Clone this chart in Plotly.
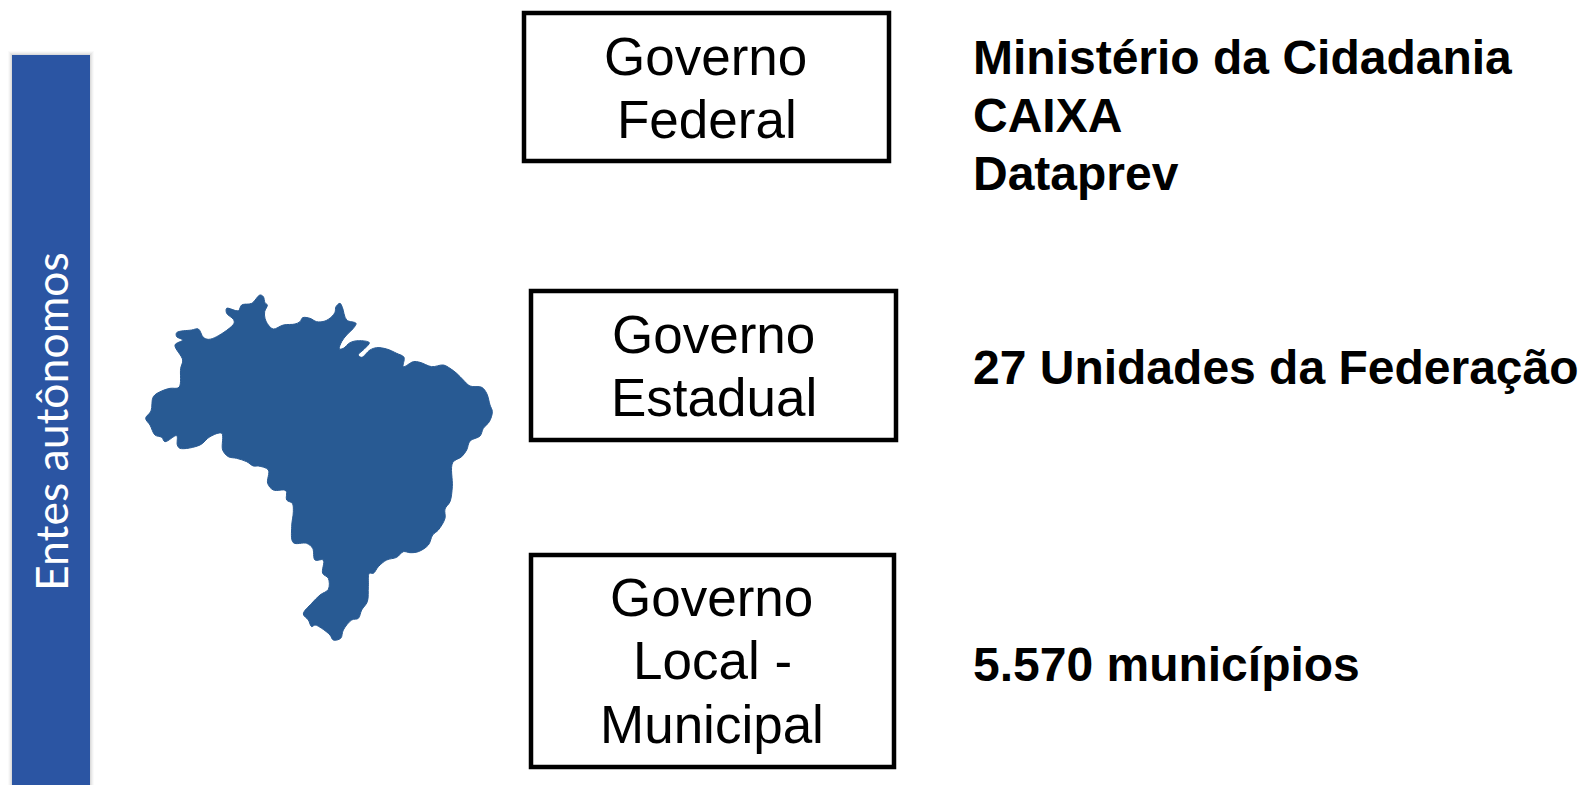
import plotly.graph_objects as go

W, H = 1583, 785

# Brazil outline (reference pixels)
map_x_raw = [390,400,405,412,404,405,415,430,460,495,510,518,540,560,585,605,615,618,630,637,650,678,670,650,635,628,640,660,685,718,705,685,695,720,740,770,800,822,820,850,870,905,940,960,980,1000,1020,1055,1070,1080,1087,1078,1060,1050,1020,1010,995,968,967,960,945,945,925,908,895,865,840,820,800,770,745,730,718,715,712,695,685,665,640,632,610,600,575,555,545,535,520,545,570,595,595,578,580,555,548,530,490,485,490,487,470,468,430,413,415,385,370,350,320,295,278,275,240,210,150,142,140,105,95,75,60,47,63,70,95,120,147,152,158,135,158,140,140,185,205,220,235,260,312,310,290,290,325,335,365]
map_y_raw = [45,50,68,75,95,115,135,147,135,132,125,113,115,125,123,110,97,80,70,82,120,130,145,165,185,207,205,188,182,188,205,225,232,210,203,207,220,232,260,245,247,260,255,265,280,300,318,322,340,375,395,425,445,468,483,510,530,548,620,665,687,715,750,765,795,815,818,815,832,840,860,880,880,920,965,990,1015,1020,1050,1075,1080,1065,1045,1035,1040,1020,1002,970,945,928,895,880,840,840,805,790,788,740,695,670,660,632,630,610,570,558,558,545,535,530,510,460,470,495,505,495,467,485,472,465,435,415,393,350,333,325,322,265,240,195,180,170,158,150,147,172,178,170,130,118,100,85,92,75,70]
map_x = [130 + v / 3 for v in map_x_raw]
map_y = [280 + v / 3 for v in map_y_raw]

box_left = [524, 531, 531]
box_right = [889, 896, 894]
box_top = [13, 291, 555]
box_bottom = [161, 440, 767]

box_lines = ["Governo", "Federal", "Governo", "Estadual", "Governo", "Local -", "Municipal"]
box_lines_x = [705, 707, 713, 714, 711, 712, 712]
box_lines_y = [56, 119, 334, 397, 597, 660, 724]

side_lines = ["Ministério da Cidadania", "CAIXA", "Dataprev", "27 Unidades da Federação", "5.570 municípios"]
side_lines_y = [57, 115, 173, 367, 664]
side_x = 971

band_label = "Entes autônomos"

fig = go.Figure()

fig.add_trace(go.Scatter(
    x=map_x + map_x[:1], y=map_y + map_y[:1], mode="lines", fill="toself",
    fillcolor="#285A93", line=dict(color="#285A93", width=1, shape="spline", smoothing=1.0),
    hoverinfo="skip", showlegend=False))

shapes = []
# soft shadow around the band
for grow, op in [(4, 0.02), (3, 0.03), (2, 0.04), (1, 0.05)]:
    shapes.append(dict(type="rect", x0=12 - grow, x1=90 + grow, y0=55 - grow, y1=790,
                       fillcolor="#000000", opacity=op, line_width=0, layer="below"))
shapes.append(dict(type="rect", x0=12, x1=90, y0=55, y1=790, fillcolor="#2B55A3",
                   line_width=0, layer="below"))
for l, r, t, b in zip(box_left, box_right, box_top, box_bottom):
    shapes.append(dict(type="rect", x0=l, x1=r, y0=t, y1=b, fillcolor="rgba(0,0,0,0)",
                       line=dict(color="#000000", width=4.5)))

annotations = [dict(x=50, y=422, text=band_label, textangle=-90, showarrow=False,
                    font=dict(family="Lato", size=44.5, color="#FFFFFF"),
                    xanchor="center", yanchor="middle")]
for t, x, y in zip(box_lines, box_lines_x, box_lines_y):
    annotations.append(dict(x=x, y=y, text=t, showarrow=False, xanchor="center", yanchor="middle",
                            font=dict(family="Liberation Sans", size=53, color="#000000")))
for t, y in zip(side_lines, side_lines_y):
    annotations.append(dict(x=side_x, y=y, text="<b>" + t + "</b>", showarrow=False,
                            xanchor="left", yanchor="middle",
                            font=dict(family="Liberation Sans", size=48, color="#000000")))

fig.update_layout(
    width=W, height=H, margin=dict(l=0, r=0, t=0, b=0, pad=0),
    paper_bgcolor="#FFFFFF", plot_bgcolor="#FFFFFF", showlegend=False,
    shapes=shapes, annotations=annotations,
    xaxis=dict(range=[0, W], visible=False, fixedrange=True),
    yaxis=dict(range=[H, 0], visible=False, fixedrange=True),
)
fig.write_html("out.html", config=dict(displayModeBar=False),
               post_script="document.body.style.margin='0';document.body.style.overflow='hidden';")
